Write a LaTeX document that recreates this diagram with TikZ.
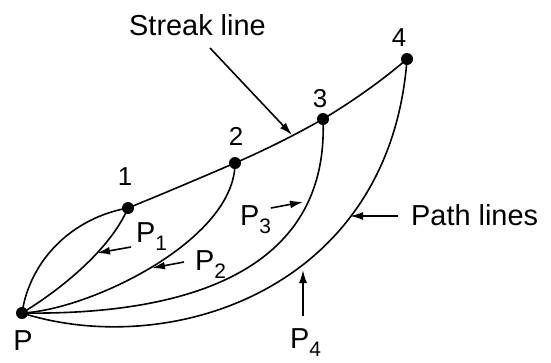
\documentclass[tikz,border=0pt]{standalone}
\usepackage{fontspec}
\setmainfont{Liberation Sans}
\usetikzlibrary{arrows.meta}
\tikzset{
 curve/.style={line width=1.6bp},
 pointer/.style={line width=1.6bp,-{Latex[length=13bp,width=8bp]}},
 lab/.style={inner sep=0pt, anchor=base west, font=\fontsize{29}{29}\selectfont},
 num/.style={inner sep=0pt, anchor=base, font=\fontsize{26}{26}\selectfont},
 dot/.style={circle, fill=black, inner sep=0pt, minimum size=12bp}
}
\newcommand\subn[1]{\raisebox{-0.3em}{\fontsize{21}{21}\selectfont #1}}
\begin{document}
\begin{tikzpicture}[x=1bp,y=-1bp]
\useasboundingbox (0,0) rectangle (551,362);
\coordinate (P) at (22,313);
\coordinate (A1) at (128,208);
\coordinate (A2) at (235,163);
\coordinate (A3) at (323,119);
\coordinate (A4) at (407,59);
% streak line
\draw[curve] (P) .. controls (30,260) and (72,218) .. (A1)
  .. controls (165,193) and (200,178) .. (A2)
  .. controls (265,150) and (295,135) .. (A3)
  .. controls (355,100) and (385,78) .. (A4);
% path lines
\draw[curve] (P) .. controls (60,290) and (110,250) .. (A1);
\draw[curve] (P) .. controls (90,310) and (235,240) .. (A2);
\draw[curve] (P) .. controls (160,315) and (330,285) .. (A3);
\draw[curve] (P) .. controls (170,360) and (390,290) .. (A4);
% dots
\foreach \n in {P,A1,A2,A3,A4} \node[dot] (d\n) at (\n) {};
% point labels
\node[num] (l1) at (125,185) {1};
\node[num] (l2) at (236,145) {2};
\node[num] (l3) at (320,107) {3};
\node[num] (l4) at (399,46) {4};
\node[lab, anchor=base] (lP) at (23,350) {P};
% streak label
\node[lab] (sl) at (129,35) {Streak line};
\coordinate (ss) at (210,48);
\coordinate (st) at (292,135);
\draw[pointer] (ss) -- (st);
% P1
\node[lab] (p1) at (136,242) {P\subn{1}};
\coordinate (s1) at (131,247);
\coordinate (t1) at (97,253);
\draw[pointer] (s1) -- (t1);
% P2
\node[lab] (p2) at (195,270) {P\subn{2}};
\coordinate (s2) at (184,262);
\coordinate (t2) at (152,268);
\draw[pointer] (s2) -- (t2);
% P3
\node[lab] (p3) at (240,225) {P\subn{3}};
\coordinate (s3) at (271,208);
\coordinate (t3) at (303,202);
\draw[pointer] (s3) -- (t3);
% Path lines
\node[lab] (pl) at (411,225) {Path lines};
\coordinate (s5) at (398,216);
\coordinate (t5) at (350,216);
\draw[pointer] (s5) -- (t5);
% P4
\node[lab] (p4) at (290,348) {P\subn{4}};
\coordinate (s4) at (303,316);
\coordinate (t4) at (303,270);
\draw[pointer] (s4) -- (t4);
\end{tikzpicture}
\end{document}
